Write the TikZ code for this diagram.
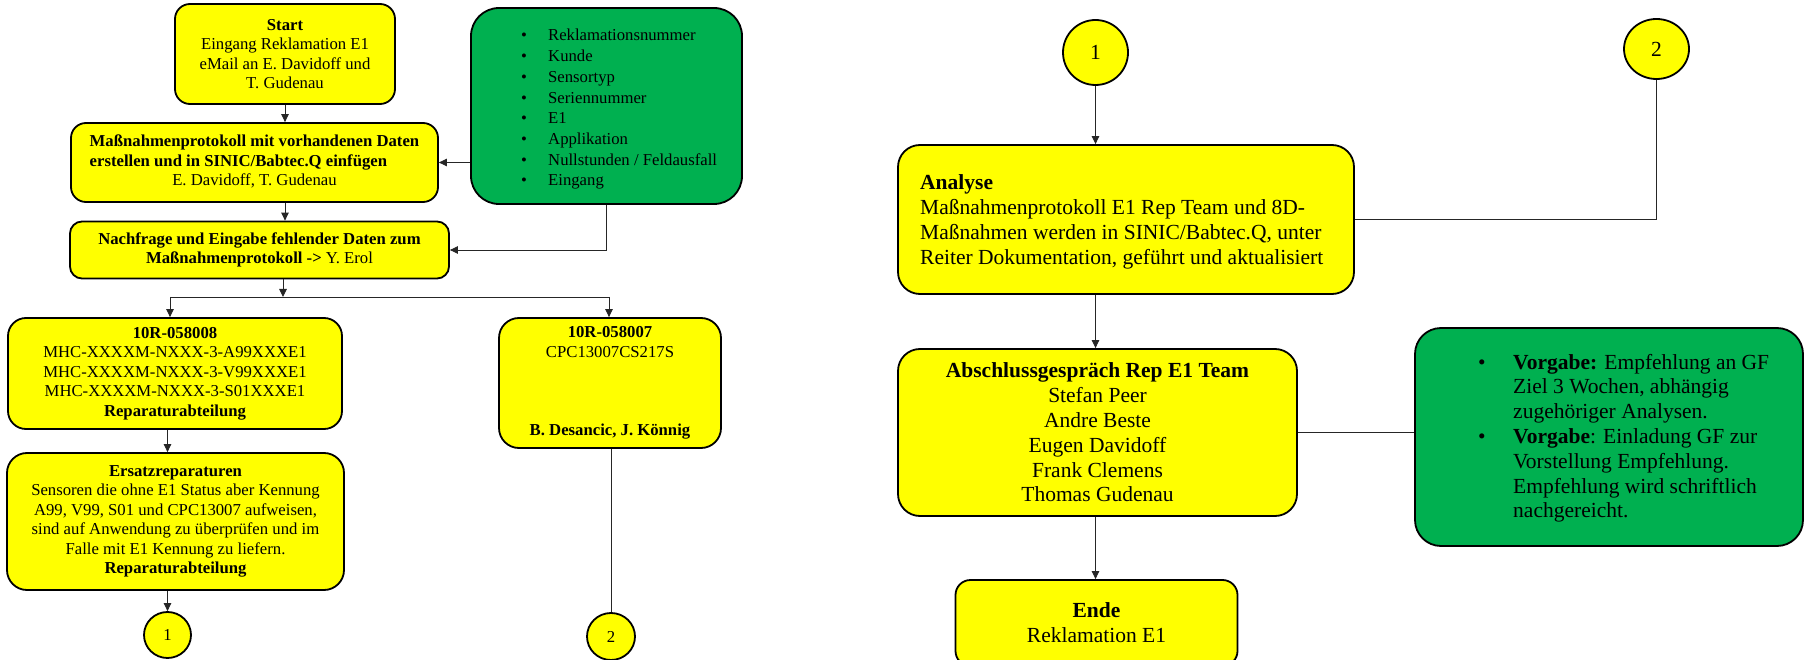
\documentclass[tikz,border=0pt]{standalone}
\usepackage{fontspec}
\setmainfont{Liberation Serif}
\usetikzlibrary{arrows.meta,shapes.geometric}
\definecolor{boxyellow}{HTML}{FFFF00}
\definecolor{boxgreen}{HTML}{00B050}
\begin{document}
\begin{tikzpicture}[x=1pt,y=-1pt,
  lfont/.style={font=\fontsize{16.7}{19.5}\selectfont},
  rfont/.style={font=\fontsize{21.5}{24.8}\selectfont},
  box/.style={draw=black,line width=1.8pt,fill=boxyellow,rectangle,rounded corners=#1,inner sep=0pt,align=center},
  box/.default=15pt,
  gbox/.style={draw=black,line width=1.8pt,fill=boxgreen,rectangle,rounded corners=#1,inner sep=0pt},
  circ/.style={draw=black,line width=1.8pt,fill=boxyellow,ellipse,inner sep=0pt},
  txt/.style={inner sep=0pt,anchor=base west},
  conn/.style={draw=black!85,line width=0.9pt},
  arr/.style={conn,-{Triangle[length=8pt,width=7.5pt]}}
]
\useasboundingbox (0,0) rectangle (1810,660);

% ---------- left part ----------
\node[box=15pt,lfont,minimum width=220pt,minimum height=100pt] (start) at (285,54)
  {\textbf{Start}\\Eingang Reklamation E1\\eMail an E. Davidoff und\\T. Gudenau};

\node[box=15pt,lfont,minimum width=367pt,minimum height=79pt] (mass) at (254.5,162.5)
  {\begin{tabular}{@{}l@{}}\textbf{Maßnahmenprotokoll mit vorhandenen Daten}\\
   \textbf{erstellen und in SINIC/Babtec.Q einfügen}\\
   \multicolumn{1}{@{}c@{}}{E. Davidoff, T. Gudenau}\end{tabular}};

\node[gbox=28pt,minimum width=271pt,minimum height=196pt] (green1) at (606.5,106) {};
\node[txt,font=\fontsize{16.7}{20.7}\selectfont] (g1txt) at (521,41)
  {\begin{tabular}[t]{@{}l@{}}
   \makebox[27pt][l]{\textbullet}Reklamationsnummer\\
   \makebox[27pt][l]{\textbullet}Kunde\\
   \makebox[27pt][l]{\textbullet}Sensortyp\\
   \makebox[27pt][l]{\textbullet}Seriennummer\\
   \makebox[27pt][l]{\textbullet}E1\\
   \makebox[27pt][l]{\textbullet}Applikation\\
   \makebox[27pt][l]{\textbullet}Nullstunden / Feldausfall\\
   \makebox[27pt][l]{\textbullet}Eingang
   \end{tabular}};

\node[box=12pt,lfont,minimum width=379pt,minimum height=57pt] (nach) at (259.5,250)
  {\textbf{Nachfrage und Eingabe fehlender Daten zum}\\\textbf{Maßnahmenprotokoll ->} Y. Erol};

\node[box=18pt,lfont,minimum width=334pt,minimum height=111pt] (r8) at (175,373.5)
  {\textbf{10R-058008}\\MHC-XXXXM-NXXX-3-A99XXXE1\\MHC-XXXXM-NXXX-3-V99XXXE1\\MHC-XXXXM-NXXX-3-S01XXXE1\\\textbf{Reparaturabteilung}};

\node[box=20pt,lfont,minimum width=222pt,minimum height=130pt] (r7) at (610,383)
  {\textbf{10R-058007}\\CPC13007CS217S\\[58.5pt]\textbf{B. Desancic, J. Könnig}};

\node[box=20pt,lfont,minimum width=337pt,minimum height=137pt] (ersatz) at (175.5,521.5)
  {\textbf{Ersatzreparaturen}\\Sensoren die ohne E1 Status aber Kennung\\A99, V99, S01 und CPC13007 aufweisen,\\sind auf Anwendung zu überprüfen und im\\Falle mit E1 Kennung zu liefern.\\\textbf{Reparaturabteilung}};

\node[circ,lfont,minimum width=47pt,minimum height=46pt] (c1L) at (167.5,635) {1};
\node[circ,lfont,minimum width=48pt,minimum height=47pt] (c2L) at (611,636.5) {2};

\coordinate (split) at (283,297);
\coordinate (sL) at (170,297);
\coordinate (sR) at (609,297);

\draw[arr] (start.south) -- (start.south |- mass.north);
\draw[arr] (mass.south -| start.south) -- (nach.north -| start.south);
\draw[arr] (green1.west |- mass.east) -- (mass.east);
\draw[arr] (green1.south) -- (green1.south |- nach.east) -- (nach.east);
\draw[arr] (nach.south -| split) -- (split);
\draw[conn] (sL) -- (sR);
\draw[arr] (sL) -- (sL |- r8.north);
\draw[arr] (sR) -- (sR |- r7.north);
\draw[arr] (r8.south -| c1L) -- (ersatz.north -| c1L);
\draw[arr] (ersatz.south -| c1L) -- (c1L.north);
\draw[conn] (r7.south -| c2L) -- (c2L.north);

% ---------- right part ----------
\node[circ,rfont,minimum width=65pt,minimum height=65pt] (c1R) at (1095.5,52.5) {1};
\node[circ,rfont,minimum width=65pt,minimum height=60pt] (c2R) at (1656.5,49) {2};

\node[box=22pt,minimum width=456pt,minimum height=149pt] (analyse) at (1126,219.5) {};
\node[txt,rfont] (antxt) at (920,190)
  {\begin{tabular}[t]{@{}l@{}}\textbf{Analyse}\\
   Maßnahmenprotokoll E1 Rep Team und 8D-\\
   Maßnahmen werden in SINIC/Babtec.Q, unter\\
   Reiter Dokumentation, geführt und aktualisiert\end{tabular}};

\node[box=22pt,rfont,minimum width=399pt,minimum height=167pt] (absch) at (1097.5,432.5)
  {\textbf{Abschlussgespräch Rep E1 Team}\\Stefan Peer\\Andre Beste\\Eugen Davidoff\\Frank Clemens\\Thomas Gudenau};

\node[gbox=26pt,minimum width=388pt,minimum height=218pt] (green2) at (1609,437) {};
\node[txt,rfont] (g2txt) at (1478,369)
  {\begin{tabular}[t]{@{}l@{}}
   \makebox[35pt][l]{\textbullet}\textbf{Vorgabe:} Empfehlung an GF\\
   \hspace*{35pt}Ziel 3 Wochen, abhängig\\
   \hspace*{35pt}zugehöriger Analysen.\\
   \makebox[35pt][l]{\textbullet}\textbf{Vorgabe}: Einladung GF zur\\
   \hspace*{35pt}Vorstellung Empfehlung.\\
   \hspace*{35pt}Empfehlung wird schriftlich\\
   \hspace*{35pt}nachgereicht.
   \end{tabular}};

\node[box=15pt,rfont,minimum width=282pt,minimum height=86pt] (ende) at (1096.5,623)
  {\textbf{Ende}\\Reklamation E1};

\draw[arr] (c1R.south) -- (c1R.south |- analyse.north);
\draw[conn] (c2R.south) -- (c2R.south |- analyse.east) -- (analyse.east);
\draw[arr] (analyse.south -| c1R) -- (absch.north -| c1R);
\draw[conn] (absch.east) -- (absch.east -| green2.west);
\draw[arr] (absch.south -| c1R) -- (ende.north -| c1R);
\end{tikzpicture}
\end{document}
